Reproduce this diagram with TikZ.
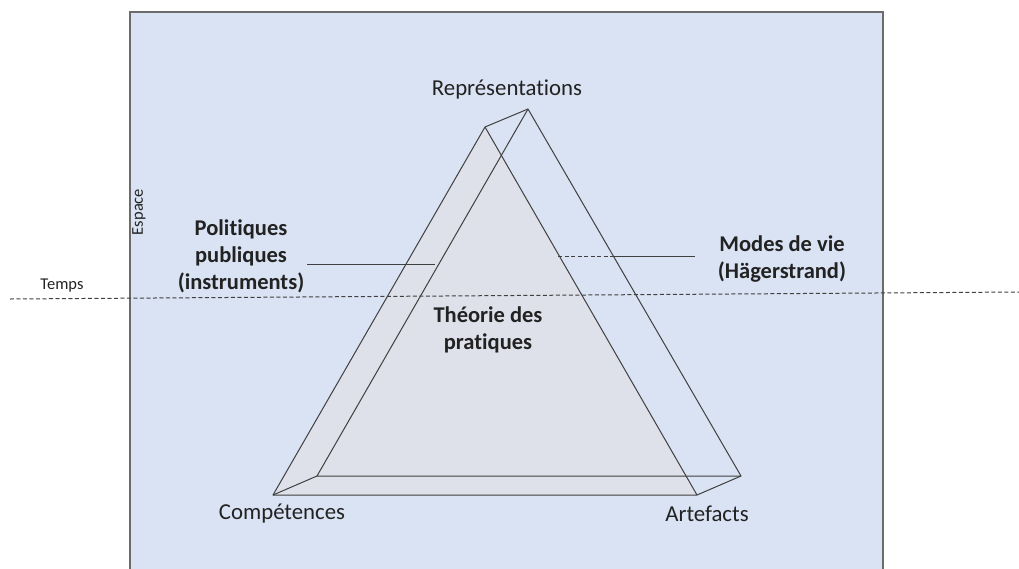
\documentclass[tikz,border=0pt]{standalone}
\usepackage{fontspec}
\setmainfont[RawFeature={-liga}]{Carlito}
\definecolor{bgblue}{HTML}{DAE3F3}
\definecolor{frontgray}{HTML}{DEE1EA}
\definecolor{edgegray}{HTML}{404040}
\definecolor{framegray}{HTML}{6B6B6B}
\definecolor{txt}{HTML}{222222}
\tikzset{
  lbl/.style={font=\fontsize{22.8}{27}\selectfont, text=txt, inner sep=0pt, align=center},
  blbl/.style={font=\fontsize{22.5}{27}\selectfont\bfseries, text=txt, inner sep=0pt, align=center},
  smalllbl/.style={font=\fontsize{16.5}{19}\selectfont, text=txt, inner sep=0pt},
  edge/.style={draw=edgegray, line width=1pt, line join=round},
  dashline/.style={draw=edgegray, line width=1pt, dash pattern=on 4pt off 2.5pt},
  leader/.style={draw=edgegray, line width=1pt}
}
\begin{document}
\begin{tikzpicture}[x=1pt,y=-1pt]
\useasboundingbox (0,0) rectangle (1019,568);
% frame
\fill[bgblue] (130,12) rectangle (883,570);
\draw[framegray, line width=1.5pt] (130,570) -- (130,12) -- (883,12) -- (883,570);
% prism coordinates
\coordinate (fA) at (485,127);
\coordinate (fL) at (273,495);
\coordinate (fR) at (697,495);
\coordinate (bA) at (528,109);
\coordinate (bL) at (317,476);
\coordinate (bR) at (741,476);
\fill[frontgray] (fA) -- (fL) -- (fR) -- cycle;
% back triangle
\draw[edge] (bA) -- (bL) -- (bR) -- cycle;
% connecting edges
\draw[edge] (fA) -- (bA);
\draw[edge] (fL) -- (bL);
\draw[edge] (fR) -- (bR);
% front triangle
\draw[edge] (fA) -- (fL) -- (fR) -- cycle;
% time line
\coordinate (t1) at (10,299);
\coordinate (t2) at (1019,292);
\draw[dashline] (t1) -- (t2);
% leaders
\coordinate (p1) at (307,264);
\coordinate (p2) at (435,264);
\draw[leader] (p1) -- (p2);
\coordinate (m1) at (558,256);
\coordinate (m2) at (613,256);
\coordinate (m3) at (695,256);
\draw[dashline] (m1) -- (m2);
\draw[leader] (m2) -- (m3);
% labels
\node[lbl] (rep) at (507,89) {Représentations};
\node[lbl] (comp) at (282,514) {Compétences};
\node[lbl] (art) at (707,514) {Artefacts};
\node[blbl] (pol) at (241,256) {Politiques\\publiques\\(instruments)};
\node[blbl] (mod) at (782,259) {Modes de vie\\(Hägerstrand)};
\node[blbl] (theo) at (488,330) {Théorie des\\pratiques};
\node[smalllbl] (temps) at (62,286) {Temps};
\node[smalllbl, rotate=90] (esp) at (139,212) {Espace};
\end{tikzpicture}
\end{document}
